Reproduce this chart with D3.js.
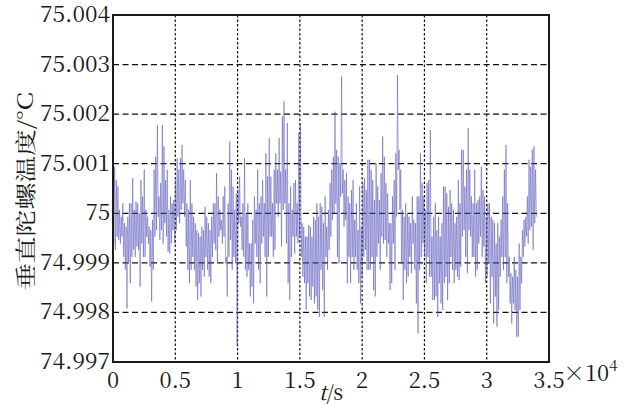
<!DOCTYPE html>
<html>
<head>
<meta charset="utf-8">
<script src="https://cdn.jsdelivr.net/npm/d3@7"></script>
<style>
  html, body { margin: 0; padding: 0; background: #fff; }
  svg { display: block; }
</style>
</head>
<body>
<svg id="chart" width="632" height="405"></svg>
<script>
// Gyro temperature deviation from 75 °C, in units of 0.001 °C (mK),
// sampled every sampleStep seconds.
const sampleStep = 66;
const deviationA = [
  0.20,-0.61, 0.94,-0.74, 0.67,-0.47, 0.54,-0.54, 0.07,-0.61, -0.07,-0.47, 0.20,-0.88, -0.20,-1.14, -0.27,-1.92, -0.07,-1.01,
  0.20,-1.41, 0.20,-0.88, 0.71,-0.74, 0.07,-0.88, 0.24,-0.67, 0.20,-0.74, 0.00,-1.48, 0.67,-0.61, 0.34,-0.88, 0.88,-0.88,
  0.07,-0.47, -0.07,-0.61, -0.27,-1.08, -0.34,-1.78, -0.13,-1.14, 0.88,-0.47, 1.14,-0.34, 1.78,-0.07, 0.34,-0.54, 0.61,-0.34,
  1.78,-0.61, 1.35,-0.20, 0.67,-0.47, 0.88,-0.77, 0.07,-0.81, 0.34,-0.61, 0.20,-0.34, 0.27,-0.61, 0.67,-0.34, 1.11,-0.07,
  0.88,-0.20, 1.11,0.07, 1.38,0.20, 0.88,-0.07, 0.67,-0.67, 0.20,-1.14, 0.07,-1.41, 0.67,-1.14, 0.20,-0.88, -0.07,-1.14,
  -0.20,-1.48, -0.34,-1.75
];
const deviationB = [
  -0.40,-1.41, -0.47,-1.68, -0.27,-1.14, -0.34,-1.28, 0.13,-0.88, -0.07,-1.14, -0.20,-1.28, -0.34,-1.41, -0.07,-0.88, 0.20,-0.61,
  0.20,-0.74, 0.81,-1.01, 0.34,-0.47, 0.07,-0.34, -0.13,-0.61, 0.34,-0.47, 0.54,-1.01, -0.88,-1.68, 0.20,-0.88, 1.45,-0.54,
  0.88,-1.14, 0.54,-0.88, 0.07,-1.01, 0.40,-2.69, 0.47,-0.20, 0.74,-0.27, -0.07,-0.74, 0.20,-0.88, 1.11,-1.14, 0.00,-1.28,
  0.20,-1.14, -0.61,-1.68, -0.61,-1.48, -0.13,-1.82, 0.34,-0.61, 0.07,-0.88, 0.88,-1.14, 0.20,-1.41, 0.34,-0.61, 0.67,-0.47,
  0.20,-0.88, 1.21,-1.68, 0.74,-0.88, 1.52,-0.47, 0.74,-0.47, 0.20,-0.88, 0.88,-0.74, 1.21,0.20, 0.88,-0.07, 1.52,0.20,
  0.84,-0.67, 1.95,0.07
];
const deviationC = [
  2.26,0.20, 0.88,-0.61, 1.82,-1.41, 0.20,-1.75, 0.54,-0.88, 0.07,-0.47, 0.61,-0.81, 0.67,-0.47, 0.20,-0.61, 1.62,-0.47,
  1.82,-0.88, -0.20,-1.28, -0.27,-1.41, -0.47,-1.95, -0.47,-1.41, -0.24,-1.68, -0.27,-1.75, -0.47,-1.48, -0.07,-1.82, -0.13,-1.68,
  0.20,-1.95, -0.07,-2.09, 0.20,-1.14, 0.13,-1.55, -0.20,-2.09, 0.34,-0.88, -0.27,-1.14, 0.07,-0.74, 0.61,-0.47, 0.88,-0.13,
  1.14,0.00, 2.05,0.20, 1.28,-0.88, 1.14,-1.01, 1.01,0.34, 2.76,0.40, 0.88,-0.27, 0.67,-0.13, 0.81,-1.41, 0.34,-0.88,
  0.20,-1.41, 0.47,-0.88, 0.67,-1.14, -0.13,-0.88, 0.20,-1.14, -0.34,-1.41, 0.54,-1.82, -0.27,-1.28, 0.61,-0.88, 0.71,-0.74,
  0.47,-1.14, 1.08,-1.14
];
const deviationD = [
  1.08,-1.14, 0.88,-0.88, 0.67,-1.55, 0.27,-1.68, 1.01,-0.88, 0.54,-0.61, 0.27,-1.14, 0.81,-0.47, 1.55,-0.61, 1.14,-0.54,
  0.61,-0.88, 0.40,-0.61, -0.20,-1.55, -0.20,-1.41, 0.34,-0.61, 0.67,-1.14, 1.21,-0.07, 2.79,0.88, 1.28,0.07, 0.88,-1.01,
  0.07,-1.75, -0.07,-1.14, 0.20,-1.41, 0.00,-1.28, -0.07,-0.88, -0.20,-1.21, 0.34,-0.61, -0.13,-1.14, -0.20,-1.82, 0.34,-2.42,
  0.34,-1.14, 1.21,-0.88, 0.61,-0.61, 0.34,-0.88, 0.07,-1.41, 0.61,-0.88, 0.67,-1.28, 1.68,-1.28, -0.47,-1.75, -0.07,-1.75,
  0.20,-1.68, -0.34,-2.09, -0.07,-1.41, -0.47,-1.82, -0.20,-1.95, 0.54,-1.41, 0.54,-1.28, 0.40,-1.75, 0.13,-1.41, 0.47,-0.88,
  0.20,-1.14, 0.07,-1.41
];
const deviationE = [
  -0.20,-1.14, -0.07,-1.28, 0.67,-1.35, 0.20,-1.08, 1.28,-0.47, 1.28,-0.34, 0.54,-0.88, 0.88,-1.21, 1.72,-0.34, 0.88,-0.47,
  0.34,-0.88, 0.20,-0.88, 0.88,-1.28, 0.20,-1.14, 0.27,-0.61, 0.34,-0.47, 0.94,-0.88, 0.47,-0.67, 0.34,-1.41, -0.07,-1.28,
  0.20,-1.01, 0.20,-1.82, -0.07,-1.28, -0.13,-2.22, -0.20,-1.68, -0.61,-2.29, -0.20,-1.95, -0.47,-1.28, -0.13,-0.88, 0.34,-1.14,
  0.88,-0.88, 1.38,-1.41, 0.20,-1.28, -0.88,-1.82, -1.21,-2.22, -1.28,-1.82, -0.88,-1.95, -1.14,-2.49, -1.28,-2.49, -0.61,-1.95,
  -0.88,-1.41, -0.34,-0.88, -0.13,-0.67, -0.07,-0.47, 0.34,-0.61, 1.08,-0.34, 0.94,-0.27, 1.28,-0.74, 1.35,-0.20, 0.88,-0.07
];

const xTicks = [0, 5000, 10000, 15000, 20000, 25000, 30000, 35000];
const xTickLabels = ["0", "0.5", "1", "1.5", "2", "2.5", "3", "3.5"];
const yTicks = [74.997, 74.998, 74.999, 75.000, 75.001, 75.002, 75.003, 75.004];
const yTickLabels = ["74.997", "74.998", "74.999", "75", "75.001", "75.002", "75.003", "75.004"];

const deviation = [].concat(deviationA, deviationB, deviationC, deviationD, deviationE);
const series = deviation.map((d, i) => ({ t: i * sampleStep, temp: 75 + d / 1000 }));

const margin = { left: 113, top: 15, right: 549, bottom: 362 };
const svg = d3.select("#chart");

const x = d3.scaleLinear().domain([0, 35000]).range([margin.left, margin.right]);
const y = d3.scaleLinear().domain([74.997, 75.004]).range([margin.bottom, margin.top]);

const numFont = '"Noto Serif CJK SC", "Liberation Serif", serif';
const cjkFont = '"Noto Serif CJK SC", "Noto Sans CJK SC", serif';
const ink = "#1a1a1a";

// grid
const grid = svg.append("g");
grid.selectAll("line.gx")
  .data(xTicks.slice(1, -1))
  .join("line")
  .attr("x1", d => x(d)).attr("x2", d => x(d))
  .attr("y1", margin.top).attr("y2", margin.bottom)
  .attr("stroke", "#111").attr("stroke-width", 1.2)
  .attr("stroke-dasharray", "2.5,2");
grid.selectAll("line.gy")
  .data(yTicks.slice(1, -1))
  .join("line")
  .attr("y1", d => y(d)).attr("y2", d => y(d))
  .attr("x1", margin.left).attr("x2", margin.right)
  .attr("stroke", "#111").attr("stroke-width", 1.2)
  .attr("stroke-dasharray", "6,3.5");

// signal trace
svg.append("defs").append("clipPath").attr("id", "plotClip")
  .append("rect")
  .attr("x", margin.left).attr("y", margin.top)
  .attr("width", margin.right - margin.left).attr("height", margin.bottom - margin.top);

const line = d3.line().x(d => x(d.t)).y(d => y(d.temp));
svg.append("path")
  .datum(series)
  .attr("clip-path", "url(#plotClip)")
  .attr("d", line)
  .attr("fill", "none")
  .attr("stroke", "#4d4db8")
  .attr("stroke-opacity", 0.7)
  .attr("stroke-width", 0.7);

// axes box
svg.append("rect")
  .attr("x", margin.left).attr("y", margin.top)
  .attr("width", margin.right - margin.left).attr("height", margin.bottom - margin.top)
  .attr("fill", "none").attr("stroke", ink).attr("stroke-width", 2);

// tick labels
svg.append("g").selectAll("text")
  .data(xTicks)
  .join("text")
  .attr("x", d => x(d)).attr("y", 388)
  .attr("text-anchor", "middle")
  .style("font-family", numFont).style("font-size", "22px").style("fill", ink)
  .text((d, i) => xTickLabels[i]);

svg.append("g").selectAll("text")
  .data(yTicks)
  .join("text")
  .attr("x", 110).attr("y", d => y(d) + 7)
  .attr("text-anchor", "end")
  .attr("textLength", (d, i) => yTickLabels[i].length > 2 ? 70 : null)
  .attr("lengthAdjust", "spacingAndGlyphs")
  .style("font-family", numFont).style("font-size", "22px").style("fill", ink)
  .text((d, i) => yTickLabels[i]);

// exponent marker
const expo = svg.append("text")
  .attr("x", 563).attr("y", 381)
  .style("font-family", numFont).style("font-size", "22px").style("fill", ink);
expo.append("tspan").text("×10");
expo.append("tspan").attr("dy", -10).style("font-size", "15px").text("4");

// axis titles
const xt = svg.append("text")
  .attr("x", 331).attr("y", 400)
  .attr("text-anchor", "middle")
  .style("font-family", numFont).style("font-size", "21px").style("fill", ink);
xt.append("tspan").style("font-style", "italic").text("t");
xt.append("tspan").text("/s");

svg.append("text")
  .attr("transform", "translate(33,191) rotate(-90)")
  .attr("text-anchor", "middle")
  .attr("textLength", 198).attr("lengthAdjust", "spacingAndGlyphs")
  .style("font-family", cjkFont).style("font-size", "21px").style("fill", ink)
  .text("垂直陀螺温度/°C");
</script>
</body>
</html>
